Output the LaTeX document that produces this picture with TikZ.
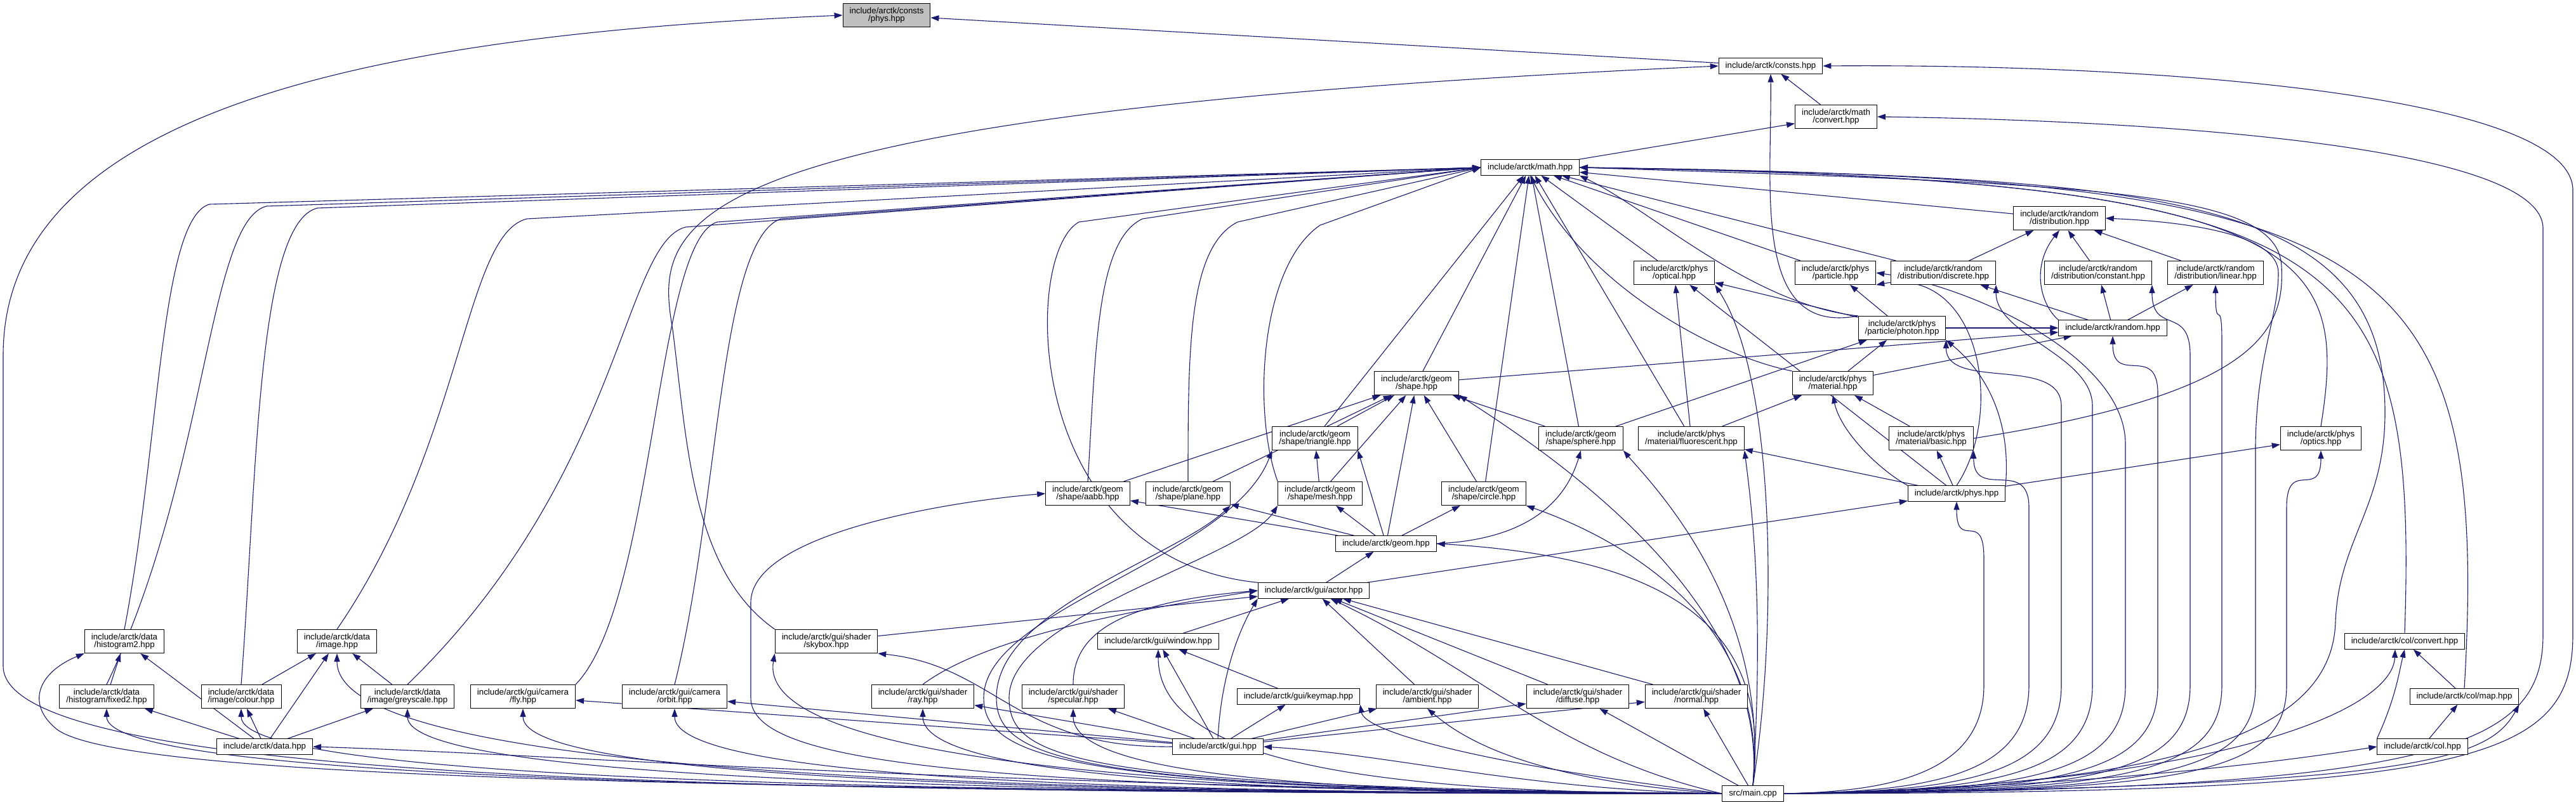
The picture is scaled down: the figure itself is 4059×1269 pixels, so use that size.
\documentclass[tikz,border=0pt]{standalone}
\usepackage{fontspec}
\setmainfont{Liberation Sans}
\usetikzlibrary{arrows.meta,calc}
\definecolor{depblue}{RGB}{25,25,112}
\definecolor{nodegrey}{RGB}{191,191,191}
\pgfdeclarelayer{edges}
\pgfsetlayers{edges,main}
% main.cpp edges: run left along the bottom, rise under the target
\newcommand{\fromleft}[1]{\draw[dep] (maincpp.west) .. controls ($(maincpp.west)!.6!(maincpp.west -| #1)$) and ($(#1)!.8!(#1 |- maincpp.west)$) .. (#1);}
% main.cpp edges on the right: climb a column, then bend in
\newcommand{\rcol}[3]{\draw[dep] (maincpp.east) .. controls (#2-150,1248) and (#2,1220) .. (#2,1080) -- (#2,#3) .. controls (#2,#3-80) and ($(#1)+(0,80)$) .. (#1);}

\begin{document}
\begin{tikzpicture}[x=1pt,y=-1pt,>={Triangle[length=13pt,width=9pt]},
          hdr/.style={draw,line width=1pt,fill=white,align=center,inner xsep=10.5pt,inner ysep=6pt,font=\fontsize{13.3}{12.7}\selectfont},
          dep/.style={->,draw=depblue,line width=1.1pt}]
        \useasboundingbox (0,0) rectangle (4059,1269);
        % headers, row by row
        \node[hdr,fill=nodegrey] (physc) at (1397,24) {include/arctk/consts\\/phys.hpp};
        \node[hdr] (consts) at (2790,104) {include/arctk/consts.hpp};
        \node[hdr] (mconv) at (2893,184) {include/arctk/math\\/convert.hpp};
        \node[hdr] (math) at (2411,264) {include/arctk/math.hpp};
        \node[hdr] (rdist) at (3245,344) {include/arctk/random\\/distribution.hpp};
        \node[hdr] (optical) at (2638,430) {include/arctk/phys\\/optical.hpp};
        \node[hdr] (particle) at (2892,430) {include/arctk/phys\\/particle.hpp};
        \node[hdr] (discrete) at (3062,430) {include/arctk/random\\/distribution/discrete.hpp};
        \node[hdr] (constant) at (3306,430) {include/arctk/random\\/distribution/constant.hpp};
        \node[hdr] (linear) at (3491,430) {include/arctk/random\\/distribution/linear.hpp};
        \node[hdr] (photon) at (2997,517) {include/arctk/phys\\/particle/photon.hpp};
        \node[hdr] (random) at (3329,517) {include/arctk/random.hpp};
        \node[hdr] (shape) at (2232,604) {include/arctk/geom\\/shape.hpp};
        \node[hdr] (material) at (2888,604) {include/arctk/phys\\/material.hpp};
        \node[hdr] (triangle) at (2072,691) {include/arctk/geom\\/shape/triangle.hpp};
        \node[hdr] (sphere) at (2491,691) {include/arctk/geom\\/shape/sphere.hpp};
        \node[hdr] (fluor) at (2665,691) {include/arctk/phys\\/material/fluorescent.hpp};
        \node[hdr] (basic) at (3043,691) {include/arctk/phys\\/material/basic.hpp};
        \node[hdr] (optics) at (3657,691) {include/arctk/phys\\/optics.hpp};
        \node[hdr] (aabb) at (1714,778) {include/arctk/geom\\/shape/aabb.hpp};
        \node[hdr] (plane) at (1872,778) {include/arctk/geom\\/shape/plane.hpp};
        \node[hdr] (mesh) at (2080,778) {include/arctk/geom\\/shape/mesh.hpp};
        \node[hdr] (circle) at (2338,778) {include/arctk/geom\\/shape/circle.hpp};
        \node[hdr] (phys) at (3083,778) {include/arctk/phys.hpp};
        \node[hdr] (geom) at (2184,857) {include/arctk/geom.hpp};
        \node[hdr] (actor) at (2070,931) {include/arctk/gui/actor.hpp};
        \node[hdr] (hist2) at (196,1011) {include/arctk/data\\/histogram2.hpp};
        \node[hdr] (image) at (531,1011) {include/arctk/data\\/image.hpp};
        \node[hdr] (skybox) at (1302,1011) {include/arctk/gui/shader\\/skybox.hpp};
        \node[hdr] (window) at (1825,1011) {include/arctk/gui/window.hpp};
        \node[hdr] (colconv) at (3789,1011) {include/arctk/col/convert.hpp};
        \node[hdr] (fixed2) at (168,1098) {include/arctk/data\\/histogram/fixed2.hpp};
        \node[hdr] (colour) at (380,1098) {include/arctk/data\\/image/colour.hpp};
        \node[hdr] (grey) at (642,1098) {include/arctk/data\\/image/greyscale.hpp};
        \node[hdr] (fly) at (824,1098) {include/arctk/gui/camera\\/fly.hpp};
        \node[hdr] (orbit) at (1063,1098) {include/arctk/gui/camera\\/orbit.hpp};
        \node[hdr] (ray) at (1454,1098) {include/arctk/gui/shader\\/ray.hpp};
        \node[hdr] (spec) at (1691,1098) {include/arctk/gui/shader\\/specular.hpp};
        \node[hdr] (keymap) at (2046,1098) {include/arctk/gui/keymap.hpp};
        \node[hdr] (ambient) at (2249,1098) {include/arctk/gui/shader\\/ambient.hpp};
        \node[hdr] (diffuse) at (2486,1098) {include/arctk/gui/shader\\/diffuse.hpp};
        \node[hdr] (normal) at (2673,1098) {include/arctk/gui/shader\\/normal.hpp};
        \node[hdr] (colmap) at (3883,1098) {include/arctk/col/map.hpp};
        \node[hdr] (data) at (417,1177) {include/arctk/data.hpp};
        \node[hdr] (gui) at (1919,1177) {include/arctk/gui.hpp};
        \node[hdr] (col) at (3817,1177) {include/arctk/col.hpp};
        \node[hdr] (maincpp) at (2762,1251) {src/main.cpp};

        \begin{pgfonlayer}{edges}
        \fill[white] (0,0) rectangle (4059,1269);
        % consts
        \draw[dep] (consts) -- (physc);
        \draw[dep] (maincpp.west) .. controls (1200,1250) and (5,1235) .. (5,1050) -- (5,560) .. controls (5,170) and (600,55) .. (physc.west);
        \draw[dep] (mconv) -- (consts);
        \draw[dep] (maincpp.east) .. controls (3900,1250) and (4054,1200) .. (4054,1000) -- (4054,300) .. controls (4054,150) and (3400,100) .. (consts.east);
        \draw[dep] (skybox.north west) .. controls (1090,900) and (1083,700) .. (1060,520) .. controls (1031,350) and (1031,180) .. (consts.west);
        \draw[dep] (photon.north west) .. controls (2760,530) and (2792,300) .. (consts.south);
        \draw[dep] (math) -- (mconv);
        \draw[dep] (maincpp.east) .. controls (3850,1245) and (4007,1180) .. (4007,1000) -- (4007,360) .. controls (4007,230) and (3400,190) .. (mconv.east);
        % math, from the left
        \draw[dep] (hist2.north) .. controls (252,700) and (252,345) .. (330,322) -- (math.west);
        \draw[dep] (fixed2.north) .. controls (327,750) and (327,348) .. (420,325) -- (math.west);
        \draw[dep] (colour.north) .. controls (405,750) and (405,352) .. (500,328) -- (math.west);
        \draw[dep] (image.north) .. controls (731,700) and (731,370) .. (830,345) -- (math.west);
        \draw[dep] (grey.north) .. controls (981,750) and (981,385) .. (1080,358) -- (math.west);
        \draw[dep] (fly.north east) .. controls (1032,950) and (1032,380) .. (1130,350) -- (math.west);
        \draw[dep] (orbit.north) .. controls (1133,800) and (1133,380) .. (1230,345) -- (math.west);
        \draw[dep] (actor.north west) .. controls (1610,880) and (1610,400) .. (1700,350) -- (math.west);
        \draw[dep] (aabb.north) .. controls (1727,550) and (1727,380) .. (1800,345) -- (math.west);
        \draw[dep] (plane.north) .. controls (1872,550) and (1872,390) .. (1950,350) -- (math.west);
        \draw[dep] (mesh.north west) .. controls (1973,650) and (1985,420) .. (2080,355) -- (math.west);
        % math, from below
        \draw[dep] (triangle) -- (math);
        \draw[dep] (shape) -- (math);
        \draw[dep] (circle) -- (math);
        \draw[dep] (sphere) -- (math);
        \draw[dep] (fluor) -- (math);
        \draw[dep] (material.north west) .. controls (2700,560) and (2500,450) .. (math.south);
        \draw[dep] (optical) -- (math);
        \draw[dep] (photon.north west) .. controls (2760,480) and (2600,330) .. (math.south east);
        \draw[dep] (particle) -- (math);
        \draw[dep] (discrete) -- (math);
        \draw[dep] (rdist) -- (math);
        % math, from the right
        \draw[dep] (basic.east) .. controls (3560,620) and (3600,520) .. (3595,420) .. controls (3590,300) and (3300,290) .. (math.east);
        \draw[dep] (optics.north) .. controls (3700,400) and (3650,280) .. (math.east);
        \draw[dep] (colconv.north) .. controls (3810,380) and (3700,285) .. (math.east);
        \draw[dep] (colmap.north) .. controls (3925,370) and (3750,280) .. (math.east);
        \draw[dep] (maincpp.east) .. controls (3450,1240) and (3675,1150) .. (3680,980) .. controls (3685,850) and (3758,800) .. (3758,650) .. controls (3758,300) and (3400,280) .. (math.east);
        % random
        \draw[dep] (discrete) -- (rdist);
        \draw[dep] (random.north west) .. controls (3215,480) and (3200,420) .. (rdist.south);
        \draw[dep] (constant) -- (rdist);
        \draw[dep] (linear) -- (rdist);
        \draw[dep] (maincpp.east) .. controls (3404,1248) and (3554,1220) .. (3554,1080) -- (3554,700) .. controls (3556,560) and (3590,500) .. (3590,430) .. controls (3590,370) and (3450,350) .. (rdist.east);
        \draw[dep] (random) -- (discrete);
        \draw[dep] (random) -- (constant);
        \draw[dep] (random) -- (linear);
        \draw[dep] (photon) -- (random);
        \draw[dep] (shape) -- (random);
        \draw[dep] (material) -- (random);
        \rcol{discrete.south east}{3297}{640}
        \rcol{constant.south east}{3451}{560}
        \rcol{linear.south}{3501}{540}
        \rcol{random.south}{3400}{620}
        % phys
        \draw[dep] (photon) -- (optical);
        \draw[dep] (fluor) -- (optical);
        \draw[dep] (phys) -- (optical);
        \draw[dep] (maincpp.north) .. controls (2800,1000) and (2800,600) .. (optical.south east);
        \draw[dep] (photon) -- (particle);
        \draw[dep] (phys.north) .. controls (3160,650) and (3120,420) .. (particle.south east);
        \draw[dep] (maincpp.east) .. controls (3199,1248) and (3349,1220) .. (3349,1080) -- (3349,700) .. controls (3349,560) and (3100,450) .. (particle.east);
        \draw[dep] (material) -- (photon);
        \draw[dep] (sphere) -- (photon);
        \draw[dep] (phys.north east) .. controls (3170,650) and (3120,580) .. (photon.south east);
        \rcol{photon.south east}{3248}{640}
        \draw[dep] (fluor) -- (material);
        \draw[dep] (basic) -- (material);
        \draw[dep] (phys.north west) .. controls (2960,740) and (2900,680) .. (material.south);
        \draw[dep] (phys) -- (fluor);
        \draw[dep] (phys) -- (basic);
        \draw[dep] (phys) -- (optics);
        \rcol{phys.south}{3126}{880}
        \rcol{basic.south east}{3197}{800}
        \rcol{optics.south}{3603}{800}
        \draw[dep] (maincpp.north) .. controls (2780,950) and (2760,800) .. (fluor.south east);
        % geom
        \draw[dep] (aabb) -- (shape);
        \draw[dep] (plane) -- (shape);
        \draw[dep] (triangle) -- (shape);
        \draw[dep] (mesh) -- (shape);
        \draw[dep] (circle) -- (shape);
        \draw[dep] (sphere) -- (shape);
        \draw[dep] (geom) -- (shape);
        \draw[dep] (mesh) -- (triangle);
        \draw[dep] (geom) -- (triangle.south east);
        \draw[dep] (geom) -- (aabb);
        \draw[dep] (geom) -- (plane);
        \draw[dep] (geom) -- (mesh);
        \draw[dep] (geom) -- (circle);
        \draw[dep] (geom.east) .. controls (2420,850) and (2470,780) .. (sphere.south);
        \draw[dep] (actor) -- (geom);
        \draw[dep] (actor) -- (phys);
        \draw[dep] (maincpp.north) .. controls (2790,1000) and (2650,880) .. (geom.east);
        \draw[dep] (maincpp.north) .. controls (2790,950) and (2450,720) .. (shape.south east);
        \draw[dep] (maincpp.north) .. controls (2790,950) and (2600,760) .. (sphere.south east);
        \draw[dep] (maincpp.north) .. controls (2790,950) and (2500,830) .. (circle.south east);
        \draw[dep] (maincpp.west) .. controls (1700,1245) and (1550,1200) .. (1550,1100) .. controls (1550,960) and (1940,880) .. (triangle.south west);
        \draw[dep] (maincpp.west) .. controls (1700,1240) and (1590,1200) .. (1590,1100) .. controls (1590,970) and (1960,880) .. (mesh.south west);
        \draw[dep] (maincpp.west) .. controls (1700,1245) and (1570,1200) .. (1570,1100) .. controls (1570,960) and (1850,880) .. (plane.south east);
        \draw[dep] (maincpp.west) .. controls (1500,1245) and (1183,1200) .. (1183,1100) -- (1183,950) .. controls (1183,840) and (1500,790) .. (aabb.west);
        % gui
        \draw[dep] (skybox) -- (actor);
        \draw[dep] (ray.north) .. controls (1560,1000) and (1800,960) .. (actor.west);
        \draw[dep] (spec.north) .. controls (1691,1000) and (1760,950) .. (actor.west);
        \draw[dep] (window) -- (actor);
        \draw[dep] (gui.north) .. controls (1925,1050) and (1960,980) .. (actor.south west);
        \draw[dep] (ambient) -- (actor);
        \draw[dep] (diffuse) -- (actor);
        \draw[dep] (normal) -- (actor);
        \draw[dep] (maincpp.west) .. controls (2450,1190) and (2340,1060) .. (actor);
        \draw[dep] (gui) -- (window);
        \draw[dep] (keymap) -- (window);
        \draw[dep] (gui) -- (keymap);
        \draw[dep] (gui.west) .. controls (1600,1180) and (1570,1050) .. (skybox.south east);
        \draw[dep] (gui) -- (ray);
        \draw[dep] (gui) -- (spec);
        \draw[dep] (gui) -- (ambient);
        \draw[dep] (gui) -- (diffuse);
        \draw[dep] (gui) -- (normal);
        \draw[dep] (gui) -- (fly);
        \draw[dep] (gui) -- (orbit);
        \draw[dep] (maincpp.west) .. controls (2400,1245) and (2200,1190) .. (gui.east);
        \draw[dep] (maincpp.west) .. controls (1500,1250) and (1200,1150) .. (skybox.south west);
        \fromleft{ray.south}
        \fromleft{spec.south}
        \fromleft{window.south}
        \draw[dep] (maincpp.west) .. controls (2300,1200) and (2150,1150) .. (keymap.south east);
        \draw[dep] (maincpp.west) .. controls (2400,1230) and (2300,1160) .. (ambient.south);
        \draw[dep] (maincpp) -- (diffuse);
        \draw[dep] (maincpp) -- (normal);
        \fromleft{orbit.south}
        \fromleft{fly.south}
        % data
        \draw[dep] (fixed2) -- (hist2);
        \draw[dep] (data) -- (hist2);
        \draw[dep] (data) -- (fixed2);
        \draw[dep] (colour) -- (image);
        \draw[dep] (grey) -- (image);
        \draw[dep] (data) -- (image);
        \draw[dep] (data) -- (colour);
        \draw[dep] (data) -- (grey);
        \draw[dep] (maincpp.west) .. controls (1200,1245) and (200,1230) .. (90,1150) .. controls (40,1110) and (60,1060) .. (hist2.south west);
        \fromleft{fixed2.south}
        \fromleft{colour.south}
        \fromleft{image.south}
        \fromleft{grey.south}
        \draw[dep] (maincpp.west) .. controls (1500,1240) and (900,1190) .. (data.east);
        % col
        \draw[dep] (colmap) -- (colconv);
        \draw[dep] (col.north west) .. controls (3775,1100) and (3780,1060) .. (colconv.south);
        \draw[dep] (col) -- (colmap);
        \draw[dep] (maincpp.east) .. controls (3500,1240) and (3770,1120) .. ([xshift=-15pt]colconv.south);
        \draw[dep] (maincpp.east) .. controls (3300,1240) and (3600,1200) .. (col.west);
        \draw[dep] (maincpp.east) .. controls (3800,1240) and (3920,1200) .. (colmap.south east);
        \end{pgfonlayer}
      \end{tikzpicture}
\end{document}
